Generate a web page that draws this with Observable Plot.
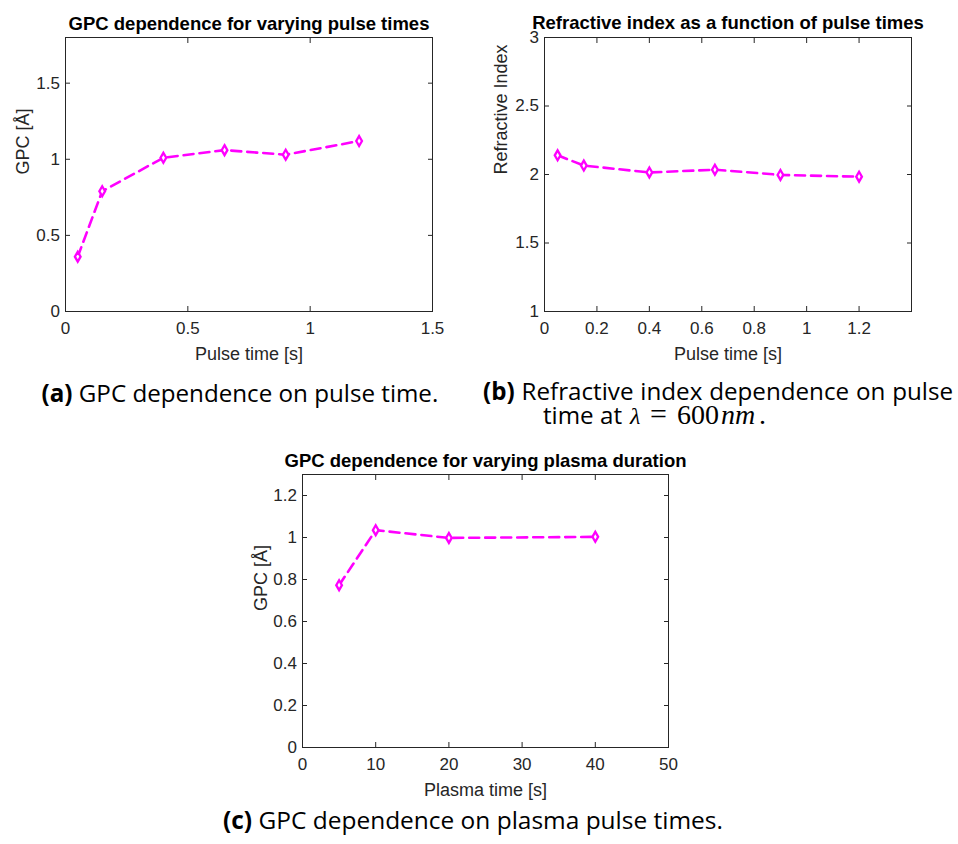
<!DOCTYPE html>
<html>
<head>
<meta charset="utf-8">
<script src="https://cdn.jsdelivr.net/npm/d3@7"></script>
<script src="https://cdn.jsdelivr.net/npm/@observablehq/plot@0.6"></script>
<style>
  html, body { margin: 0; padding: 0; background: #ffffff; }
  #page { position: relative; width: 958px; height: 844px; background: #ffffff; overflow: hidden; }
  #page svg.plotsvg { position: absolute; overflow: visible; }
</style>
</head>
<body>
<div id="page"></div>
<script>
// ---------- data ----------
const pulseTimes = [0.05, 0.15, 0.4, 0.65, 0.9, 1.2];
const gpcPulse = [0.36, 0.79, 1.01, 1.06, 1.03, 1.12];
const refractiveIndex = [2.14, 2.065, 2.015, 2.035, 1.997, 1.984];
const plasmaTimes = [5, 10, 20, 40];
const gpcPlasma = [0.773, 1.035, 0.998, 1.003];

const ticksAX = [0, 0.5, 1, 1.5];
const ticksAY = [0, 0.5, 1, 1.5];
const ticksBX = [0, 0.2, 0.4, 0.6, 0.8, 1, 1.2];
const ticksBY = [1, 1.5, 2, 2.5, 3];
const ticksCX = [0, 10, 20, 30, 40, 50];
const ticksCY = [0, 0.2, 0.4, 0.6, 0.8, 1, 1.2];

const titleA = "GPC dependence for varying pulse times";
const titleB = "Refractive index as a function of pulse times";
const titleC = "GPC dependence for varying plasma duration";
const xLabelA = "Pulse time [s]";
const xLabelB = "Pulse time [s]";
const xLabelC = "Plasma time [s]";
const yLabelA = "GPC [Å]";
const yLabelB = "Refractive Index";
const yLabelC = "GPC [Å]";

// ---------- style ----------
const FONT = "'Liberation Sans', Arial, Helvetica, sans-serif";
const AXIS = "#262626";
const MAGENTA = "#ff00ff";

function panel(o) {
  const data = o.xs.map((v, i) => ({x: v, y: o.ys[i]}));
  const fmt = d => String(d);
  const svg = Plot.plot({
    width: o.width, height: o.height,
    marginLeft: o.ml, marginRight: o.mr, marginTop: o.mt, marginBottom: o.mb,
    x: {domain: o.xDomain},
    y: {domain: o.yDomain},
    style: {fontFamily: FONT, fontSize: "17px", color: AXIS, background: "transparent", overflow: "visible"},
    marks: [
      Plot.axisX({anchor: "bottom", ticks: o.xTicks, tickSize: -5, tickPadding: 15.5, tickFormat: fmt, label: null, fontSize: 17}),
      Plot.axisX({anchor: "top", ticks: o.xTicks, tickSize: -5, tickFormat: () => "", label: null}),
      Plot.axisY({anchor: "left", ticks: o.yTicks, tickSize: -5, tickPadding: 10.5, tickFormat: fmt, label: null, fontSize: 17}),
      Plot.axisY({anchor: "right", ticks: o.yTicks, tickSize: -5, tickFormat: () => "", label: null}),
      Plot.frame({stroke: AXIS, strokeWidth: 1}),
      Plot.lineY(data, {x: "x", y: "y", stroke: MAGENTA, strokeWidth: 2.6, strokeDasharray: "10,6"}),
      Plot.dot(data, {x: "x", y: "y", symbol: "diamond", r: 3, stroke: MAGENTA, strokeWidth: 2.3, fill: "white"}),
      Plot.text([o.title], {text: d => d, frameAnchor: "top", lineAnchor: "middle", dy: o.titleDy, fontWeight: "bold", fontSize: 18.5, fill: "#000000"}),
      Plot.text([o.xLabel], {text: d => d, frameAnchor: "bottom", lineAnchor: "middle", dy: 42.8, fontSize: 18, fill: AXIS}),
      Plot.text([o.yLabel], {text: d => d, frameAnchor: "left", lineAnchor: "middle", dx: o.yLabelDx, rotate: -90, fontSize: 18, fill: AXIS})
    ]
  });
  svg.classList.add("plotsvg");
  svg.style.left = o.left + "px";
  svg.style.top = o.top + "px";
  return svg;
}

const page = document.getElementById("page");

page.appendChild(panel({
  left: 0, top: 0, width: 450, height: 365, ml: 65, mr: 18, mt: 37, mb: 54,
  xs: pulseTimes, ys: gpcPulse, xDomain: [0, 1.5], yDomain: [0, 1.8],
  xTicks: ticksAX, yTicks: ticksAY,
  title: titleA, xLabel: xLabelA, yLabel: yLabelA, titleDy: -13.5, yLabelDx: -42
}));

page.appendChild(panel({
  left: 470, top: 0, width: 488, height: 365, ml: 74, mr: 47, mt: 37, mb: 54,
  xs: pulseTimes, ys: refractiveIndex, xDomain: [0, 1.4], yDomain: [1, 3],
  xTicks: ticksBX, yTicks: ticksBY,
  title: titleB, xLabel: xLabelB, yLabel: yLabelB, titleDy: -14, yLabelDx: -43
}));

page.appendChild(panel({
  left: 240, top: 440, width: 450, height: 360, ml: 62, mr: 22, mt: 34, mb: 53,
  xs: plasmaTimes, ys: gpcPlasma, xDomain: [0, 50], yDomain: [0, 1.3],
  xTicks: ticksCX, yTicks: ticksCY,
  title: titleC, xLabel: xLabelC, yLabel: yLabelC, titleDy: -13.5, yLabelDx: -41.5
}));

// ---------- captions (sub-figure captions below the plots) ----------
const NS = "http://www.w3.org/2000/svg";
const cap = document.createElementNS(NS, "svg");
cap.setAttribute("width", 958);
cap.setAttribute("height", 844);
cap.style.position = "absolute";
cap.style.left = "0px";
cap.style.top = "0px";
cap.style.pointerEvents = "none";
page.appendChild(cap);

const CAPFONT = "'Open Sans', 'Noto Sans', sans-serif";
const MATHFONT = "'Liberation Serif', 'DejaVu Serif', serif";
const CAPSIZE = 21;

function textEl(x, y, size, family) {
  const t = document.createElementNS(NS, "text");
  t.setAttribute("x", x);
  t.setAttribute("y", y);
  t.setAttribute("font-family", family);
  t.setAttribute("font-size", size);
  t.setAttribute("fill", "#000");
  cap.appendChild(t);
  return t;
}
function addSpan(t, s, bold) {
  const sp = document.createElementNS(NS, "tspan");
  sp.textContent = s;
  if (bold) sp.setAttribute("font-weight", "bold");
  t.appendChild(sp);
}
// fit: scale the font so the line spans the target width; returns the size used
function captionFit(x, y, label, body, target) {
  const t = textEl(x, y, CAPSIZE, CAPFONT);
  addSpan(t, label, true);
  addSpan(t, " " + body, false);
  const L = t.getComputedTextLength();
  const size = L > 0 ? CAPSIZE * target / L : CAPSIZE;
  t.setAttribute("font-size", size.toFixed(2));
  return size;
}
// justify: keep the font size, widen the word spaces to reach the target width
function captionJustify(x, y, label, body, target, size) {
  const t = textEl(x, y, size.toFixed(2), CAPFONT);
  addSpan(t, label, true);
  addSpan(t, " " + body, false);
  const L = t.getComputedTextLength();
  const spaces = (label + " " + body).split(" ").length - 1;
  if (L < target) t.setAttribute("word-spacing", ((target - L) / spaces).toFixed(2));
  else t.setAttribute("font-size", (size * target / L).toFixed(2));
}

const capSizeA = captionFit(41.5, 401.5, "(a)", "GPC dependence on pulse time.", 397);
captionJustify(483, 400, "(b)", "Refractive index dependence on pulse", 470, capSizeA);
captionFit(223, 828.5, "(c)", "GPC dependence on plasma pulse times.", 500);

// second line of caption (b), with the math part in a serif face
const t1 = textEl(543, 423.5, capSizeA.toFixed(2), CAPFONT); addSpan(t1, "time at", false);
const m1 = textEl(630, 423.5, 24, MATHFONT); m1.setAttribute("font-style", "italic"); addSpan(m1, "λ", false);
const m2 = textEl(650, 423.5, 30, MATHFONT); addSpan(m2, "=", false);
const m3 = textEl(677, 423.5, 28, MATHFONT); addSpan(m3, "600", false);
const m4 = textEl(721, 423.5, 28, MATHFONT); m4.setAttribute("font-style", "italic"); addSpan(m4, "nm", false);
const m5 = textEl(759, 423.5, 28, MATHFONT); addSpan(m5, ".", false);
</script>
</body>
</html>
